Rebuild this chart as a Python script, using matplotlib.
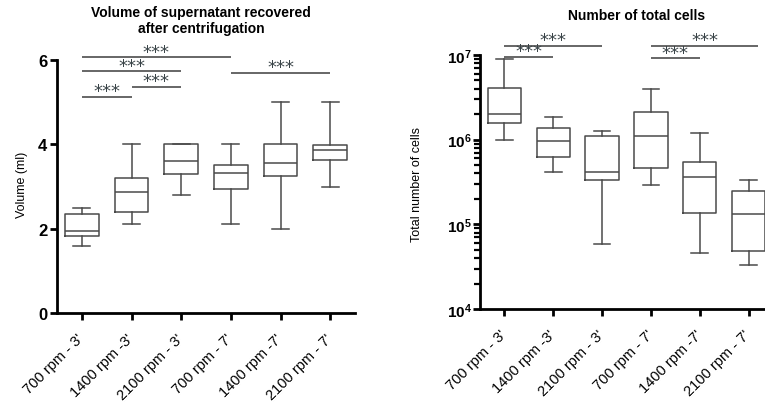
import matplotlib
matplotlib.use("Agg")
import matplotlib.pyplot as plt
import matplotlib.transforms as mtransforms
from matplotlib.ticker import LogLocator, NullFormatter

plt.rcParams['font.family'] = ['Liberation Sans', 'DejaVu Sans']
plt.rcParams['mathtext.fontset'] = 'custom'
plt.rcParams['mathtext.bf'] = 'Liberation Sans:bold'
plt.rcParams['mathtext.rm'] = 'Liberation Sans'

# ---------------- data ----------------
categories = ["700 rpm - 3'", "1400 rpm -3'", "2100 rpm - 3'",
              "700 rpm - 7'", "1400 rpm -7'", "2100 rpm - 7'"]

# Volume of supernatant (ml): whisker low, Q1, median, Q3, whisker high
vol_low = [1.6, 2.1, 2.8, 2.1, 2.0, 3.0]
vol_q1 = [1.83, 2.4, 3.3, 2.94, 3.25, 3.63]
vol_med = [1.95, 2.86, 3.61, 3.31, 3.55, 3.87]
vol_q3 = [2.35, 3.2, 4.0, 3.51, 4.0, 3.98]
vol_high = [2.5, 4.0, 4.0, 4.0, 5.0, 5.0]

# Number of total cells
cell_low = [1.0e6, 4.1e5, 5.9e4, 2.9e5, 4.6e4, 3.3e4]
cell_q1 = [1.57e6, 6.3e5, 3.35e5, 4.6e5, 1.35e5, 4.9e4]
cell_med = [2.0e6, 9.7e5, 4.2e5, 1.11e6, 3.65e5, 1.32e5]
cell_q3 = [4.07e6, 1.36e6, 1.11e6, 2.14e6, 5.5e5, 2.5e5]
cell_high = [9.0e6, 1.84e6, 1.26e6, 3.96e6, 1.2e6, 3.36e5]

# significance bars: (group from, group to, height, label)
vol_sig = [(0, 1, 5.12, '***'), (1, 2, 5.37, '***'), (0, 2, 5.73, '***'),
           (0, 3, 6.06, '***'), (3, 5, 5.69, '***')]
cell_sig = [(0, 2, 1.29e7, '***'), (0, 1, 9.5e6, '***'),
            (3, 5.2, 1.29e7, '***'), (3, 4, 9.1e6, '***')]

vol_yticks = [0, 2, 4, 6]
cell_yticks = [1e4, 1e5, 1e6, 1e7]
cell_yticklabels = [r'$\mathbf{10^{4}}$', r'$\mathbf{10^{5}}$',
                    r'$\mathbf{10^{6}}$', r'$\mathbf{10^{7}}$']

# ---------------- figure ----------------
fig = plt.figure(figsize=(7.65, 4.10), dpi=100)
ax1 = fig.add_axes([57 / 765, 1 - 314 / 410, 298 / 765, 253 / 410])
ax2 = fig.add_axes([480 / 765, 1 - 310 / 410, 293 / 765, 254 / 410])

BOXC = '#4a4a4a'
LINEC = '#5a5a5a'
STARC = '#3a4448'


def make_stats(lo, q1, med, q3, hi):
    return [dict(whislo=a, q1=b, med=c, q3=d, whishi=e, fliers=[])
            for a, b, c, d, e in zip(lo, q1, med, q3, hi)]


def style_axes(ax):
    for s in ['top', 'right']:
        ax.spines[s].set_visible(False)
    for s in ['left', 'bottom']:
        ax.spines[s].set_linewidth(2.0)
        ax.spines[s].set_color('black')
    ax.tick_params(axis='both', which='major', length=5, width=2.0,
                   color='black', direction='out')
    ax.tick_params(axis='x', labelsize=10.5, pad=8)
    ax.set_xlim(-0.5, 5.5)
    ax.set_xticks(range(len(categories)))
    ax.set_xticklabels(categories, rotation=45, ha='right',
                       rotation_mode='anchor', va='top')
    off = mtransforms.ScaledTranslation(-5 / 100, 0, fig.dpi_scale_trans)
    for lab in ax.get_xticklabels():
        lab.set_transform(lab.get_transform() + off)
    ax.patch.set_alpha(0)


def draw_boxes(ax, stats):
    props = dict(color=BOXC, linewidth=1.1)
    ax.bxp(stats, positions=range(len(stats)), widths=0.68,
           showfliers=False, boxprops=props, whiskerprops=props,
           capprops=props, medianprops=props, patch_artist=False)


def draw_sig(ax, sigs):
    for a, b, h, lab in sigs:
        ax.plot([a, b], [h, h], color=LINEC, linewidth=1.3,
                clip_on=False, solid_capstyle='butt')
        ax.annotate(lab, xy=((a + b) / 2, h), xytext=(0, 0.5),
                    textcoords='offset points', ha='center', va='baseline',
                    fontsize=13, color=STARC, family='DejaVu Sans',
                    annotation_clip=False)


# left panel
draw_boxes(ax1, make_stats(vol_low, vol_q1, vol_med, vol_q3, vol_high))
style_axes(ax1)
ax1.set_ylim(0, 6)
ax1.set_yticks(vol_yticks)
ax1.tick_params(axis='y', labelsize=12, pad=2)
for t in ax1.get_yticklabels():
    t.set_fontweight('bold')
draw_sig(ax1, vol_sig)

# right panel
draw_boxes(ax2, make_stats(cell_low, cell_q1, cell_med, cell_q3, cell_high))
style_axes(ax2)
ax2.set_yscale('log')
ax2.set_ylim(1e4, 1e7)
ax2.set_yticks(cell_yticks)
ax2.set_yticklabels(cell_yticklabels)
ax2.yaxis.set_minor_locator(LogLocator(base=10, subs=range(2, 10)))
ax2.yaxis.set_minor_formatter(NullFormatter())
ax2.tick_params(axis='y', which='minor', length=4, width=1.6, color='black')
ax2.tick_params(axis='y', which='major', labelsize=11, pad=1)
draw_sig(ax2, cell_sig)

# titles and axis labels
fig.text(201 / 765, 1 - 21 / 410,
         'Volume of supernatant recovered\nafter centrifugation',
         ha='center', va='center', fontsize=10, fontweight='bold',
         linespacing=1.15)
fig.text(637 / 765, 1 - 16 / 410, 'Number of total cells',
         ha='center', va='center', fontsize=10, fontweight='bold')
fig.text(22 / 765, 1 - 185 / 410, 'Volume (ml)', rotation=90,
         ha='center', va='center', fontsize=9)
fig.text(417 / 765, 1 - 185 / 410, 'Total number of cells', rotation=90,
         ha='center', va='center', fontsize=9)

fig.savefig('out.png', dpi=100, facecolor='white')
